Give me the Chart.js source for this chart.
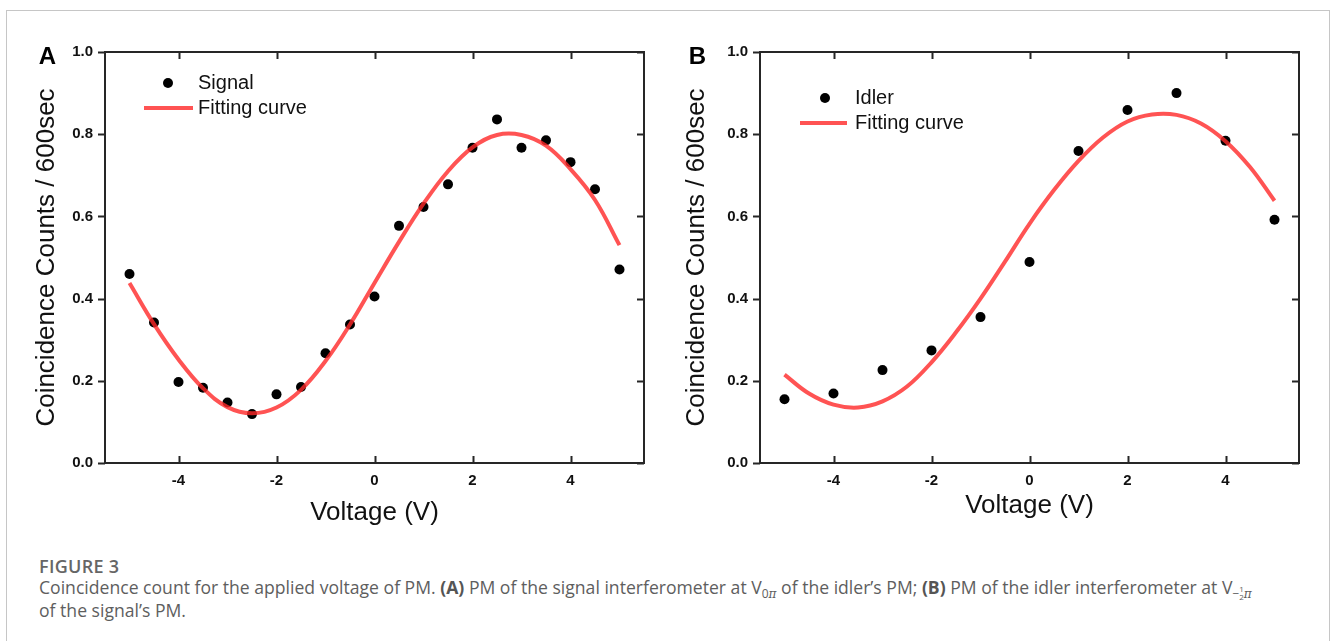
<!DOCTYPE html>
<html><head><meta charset="utf-8">
<script src="https://cdn.jsdelivr.net/npm/chart.js@4.4.0/dist/chart.umd.min.js"></script>
<style>
html,body{margin:0;padding:0;background:#fff;width:1330px;height:641px;overflow:hidden;}
#frame{position:absolute;left:6px;top:10px;width:1322px;height:700px;border:1px solid #c6c6c6;border-bottom:none;}
.panel{position:absolute;top:0;width:665px;height:540px;}
#pa{left:0px} #pb{left:655px}
.cap{position:absolute;left:39px;font-family:"Open Sans",sans-serif;color:#5e5e5e;white-space:nowrap;}
#fig{top:554px;font-size:18px;font-weight:600;color:#666;letter-spacing:0.3px;}
#l1{top:575px;font-size:17.6px;}
#l2{top:598px;font-size:17.6px;}
.cap b{font-weight:700;color:#555;}
.sub{font-size:12px;position:relative;top:4px;}
.pi{font-family:"DejaVu Serif",serif;font-style:italic;}
.frac{display:inline-block;vertical-align:middle;text-align:center;font-size:8px;line-height:8px;position:relative;top:-2px;}
.frac span{display:block;}
#preload{position:absolute;left:-9999px;font-family:"Liberation Sans";}
</style>
</head><body>
<div id="preload">Aa<b>Bb</b></div>
<div id="frame"></div>
<div class="panel" id="pa"><canvas id="ca" width="665" height="540"></canvas></div>
<div class="panel" id="pb"><canvas id="cb" width="665" height="540"></canvas></div>
<div class="cap" id="fig">FIGURE 3</div>
<div class="cap" id="l1">Coincidence count for the applied voltage of PM. <b>(A)</b> PM of the signal interferometer at V<span class="sub">0<span class="pi">π</span></span> of the idler’s PM; <b>(B)</b> PM of the idler interferometer at V<span class="sub">−<span class="frac"><span>1</span><span>2</span></span><span class="pi">π</span></span></div>
<div class="cap" id="l2">of the signal’s PM.</div>
<script>
// ---- data ----
const xTickValues = [-4, -2, 0, 2, 4];
const yTickValues = [0, 0.2, 0.4, 0.6, 0.8, 1.0];

// Panel A: Signal
const signalVolts = [-5, -4.5, -4, -3.5, -3, -2.5, -2, -1.5, -1, -0.5, 0, 0.5, 1, 1.5, 2, 2.5, 3, 3.5, 4, 4.5, 5];
const signalCounts = [0.460, 0.342, 0.197, 0.183, 0.147, 0.119, 0.167, 0.185, 0.267, 0.337, 0.405, 0.577, 0.623, 0.678, 0.767, 0.836, 0.767, 0.785, 0.732, 0.666, 0.471];
const fitVoltsA = [-5, -4.5, -4, -3.5, -3, -2.5, -2, -1.5, -1, -0.5, 0, 0.5, 1, 1.5, 2, 2.5, 3, 3.5, 4, 4.5, 5];
const fitCountsA = [0.438, 0.338, 0.252, 0.182, 0.136, 0.121, 0.135, 0.178, 0.248, 0.337, 0.438, 0.538, 0.631, 0.710, 0.768, 0.798, 0.798, 0.772, 0.715, 0.640, 0.530];

// Panel B: Idler
const idlerVolts = [-5, -4, -3, -2, -1, 0, 1, 2, 3, 4, 5];
const idlerCounts = [0.155, 0.169, 0.226, 0.274, 0.355, 0.489, 0.759, 0.859, 0.900, 0.784, 0.592];
const fitVoltsB = [-5, -4.5, -4, -3.5, -3, -2.5, -2, -1.5, -1, -0.5, 0, 0.5, 1, 1.5, 2, 2.5, 3, 3.5, 4, 4.5, 5];
const fitCountsB = [0.215, 0.169, 0.142, 0.135, 0.150, 0.186, 0.245, 0.318, 0.400, 0.490, 0.582, 0.664, 0.735, 0.792, 0.831, 0.848, 0.847, 0.826, 0.783, 0.720, 0.638];

const FONT = "Liberation Sans";
const CURVE = 'rgba(255,40,40,0.8)';

const pts = (xs, ys) => xs.map((x, i) => ({x: x, y: ys[i]}));

const decorPlugin = {
  id: 'decor',
  afterDraw(chart, args, o) {
    const ctx = chart.ctx, a = chart.chartArea;
    const xs = chart.scales.x, ys = chart.scales.y;
    ctx.save();
    ctx.strokeStyle = '#262626';
    ctx.lineWidth = 2;
    ctx.strokeRect(a.left, a.top, a.right - a.left, a.bottom - a.top);
    const TL = 7;
    ctx.beginPath();
    xTickValues.forEach(v => {
      const px = Math.round(xs.getPixelForValue(v)) + 0.5;
      ctx.moveTo(px, a.bottom); ctx.lineTo(px, a.bottom - TL);
      ctx.moveTo(px, a.top); ctx.lineTo(px, a.top + TL);
    });
    yTickValues.forEach(v => {
      const py = Math.round(ys.getPixelForValue(v)) + 0.5;
      ctx.moveTo(a.left, py); ctx.lineTo(a.left - TL, py);
      ctx.moveTo(a.right, py); ctx.lineTo(a.right - TL, py);
    });
    ctx.stroke();
    // panel letter
    ctx.fillStyle = '#000';
    ctx.font = 'bold 24px "' + FONT + '"';
    ctx.textAlign = 'center';
    ctx.textBaseline = 'middle';
    ctx.fillText(o.letter, o.letterX, o.letterY);
    // legend
    const L = o.legend;
    ctx.beginPath();
    ctx.arc(L.dotX, L.dotY, 5, 0, Math.PI * 2);
    ctx.fill();
    ctx.strokeStyle = CURVE;
    ctx.lineWidth = 4;
    ctx.beginPath();
    ctx.moveTo(L.lineX1, L.lineY); ctx.lineTo(L.lineX2, L.lineY);
    ctx.stroke();
    ctx.fillStyle = '#111';
    ctx.font = '20px "' + FONT + '"';
    ctx.textAlign = 'left';
    ctx.fillText(L.text1, L.textX, L.dotY);
    ctx.fillText('Fitting curve', L.textX, L.lineY);
    ctx.restore();
  }
};

function makeChart(id, pData, fData, opt) {
  return new Chart(document.getElementById(id), {
    type: 'scatter',
    data: {
      datasets: [
        {type: 'line', label: 'Fitting curve', data: fData, borderColor: CURVE, borderWidth: 4,
         pointRadius: 0, fill: false, tension: 0.4, order: 0},
        {type: 'scatter', label: opt.legend.text1, data: pData, backgroundColor: '#000', borderColor: '#000',
         pointRadius: 5, borderWidth: 0, order: 1}
      ]
    },
    options: {
      responsive: false,
      animation: false,
      devicePixelRatio: 1,
      layout: {padding: {top: 52, right: 21, left: 0, bottom: 0}},
      plugins: {legend: {display: false}, tooltip: {enabled: false}, decor: opt},
      scales: {
        x: {
          type: 'linear', min: -5.5, max: 5.5,
          afterBuildTicks: s => { s.ticks = xTickValues.map(v => ({value: v})); },
          afterFit: s => { s.height = 77; },
          grid: {display: false, drawTicks: false},
          border: {display: false},
          ticks: {padding: 9, color: '#111', font: {family: FONT, size: 15, weight: 'bold'}, maxRotation: 0},
          title: {display: true, text: 'Voltage (V)', color: '#111', font: {family: FONT, size: 26},
                  padding: {top: 0, bottom: opt.xTitlePad}}
        },
        y: {
          type: 'linear', min: 0, max: 1,
          afterBuildTicks: s => { s.ticks = yTickValues.map(v => ({value: v})); },
          afterFit: s => { s.width = opt.yWidth; },
          grid: {display: false, drawTicks: false},
          border: {display: false},
          ticks: {padding: 12, color: '#111', font: {family: FONT, size: 15, weight: 'bold'},
                  callback: v => Number(v).toFixed(1)},
          title: {display: true, text: 'Coincidence Counts / 600sec', color: '#111', font: {family: FONT, size: 26},
                  padding: {top: opt.yTitlePad, bottom: 0}}
        }
      }
    },
    plugins: [decorPlugin]
  });
}

function build() {
  makeChart('ca', pts(signalVolts, signalCounts), pts(fitVoltsA, fitCountsA), {
    letter: 'A', letterX: 47.5, letterY: 57.5, yWidth: 105, yTitlePad: 31, xTitlePad: 12,
    legend: {dotX: 168, dotY: 83, lineX1: 144, lineX2: 193, lineY: 108, textX: 198, text1: 'Signal'}
  });
  makeChart('cb', pts(idlerVolts, idlerCounts), pts(fitVoltsB, fitCountsB), {
    letter: 'B', letterX: 42.5, letterY: 57.5, yWidth: 105, yTitlePad: 26.5, xTitlePad: 18.5,
    legend: {dotX: 170, dotY: 98, lineX1: 145, lineX2: 192, lineY: 123, textX: 200, text1: 'Idler'}
  });
}
Promise.all([
  document.fonts.load('20px "Liberation Sans"'),
  document.fonts.load('bold 20px "Liberation Sans"')
]).then(build, build);
</script>
</body></html>
